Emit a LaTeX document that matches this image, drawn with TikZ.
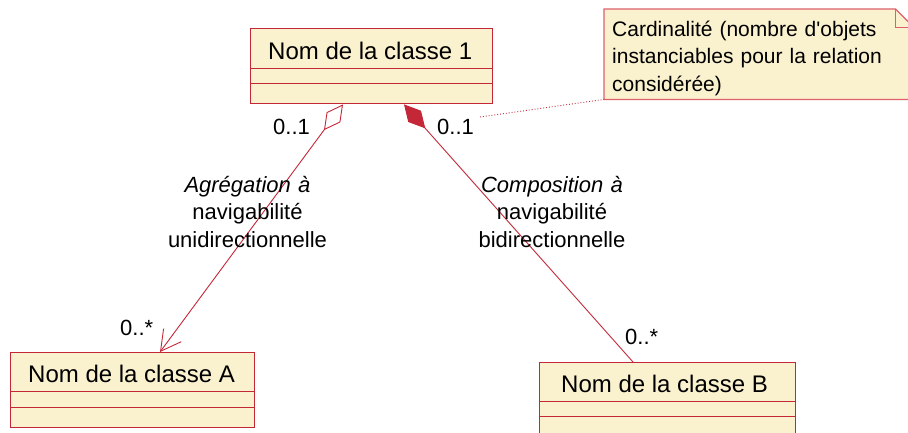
\documentclass[tikz,border=0pt]{standalone}
\usepackage{fontspec}
\setmainfont{Liberation Sans}
\usetikzlibrary{arrows.meta,calc}
\definecolor{umlred}{RGB}{196,40,56}
\definecolor{umlfill}{RGB}{250,241,206}
\definecolor{notered}{RGB}{222,96,108}
\tikzset{
  classbox/.style={draw=umlred, fill=umlfill, line width=1.4pt, rectangle, inner sep=0pt, anchor=north west},
  classline/.style={draw=umlred, line width=0.9pt},
  classtitle/.style={font=\fontsize{24}{28}\selectfont, inner sep=0pt, anchor=base west},
  mult/.style={font=\fontsize{22}{26}\selectfont, inner sep=0pt, anchor=base west},
  edgelabel/.style={font=\fontsize{22}{27.5}\selectfont, inner sep=0pt, text width=220pt, align=center, anchor=base},
  notetext/.style={font=\fontsize{21}{27.5}\selectfont, inner sep=0pt, text width=290pt, align=left, anchor=base west},
  conn/.style={draw=umlred, line width=0.9pt},
  aggarrow/.style={conn, {Diamond[open, length=32pt, width=17pt, line width=0.9pt]}-{Straight Barb[length=20pt, width=22pt, line width=0.9pt]}},
  comparrow/.style={conn, {Diamond[fill=umlred, length=32pt, width=17pt]}-},
  notelink/.style={draw=umlred, line width=0.9pt, dotted},
}
\begin{document}
\begin{tikzpicture}[x=1pt, y=-1pt]
\clip (0,0) rectangle (908,432);
\fill[white] (0,0) rectangle (908,432);

% Note
\node[minimum width=309pt, minimum height=90pt, inner sep=0pt, anchor=north west] (note) at (604,9) {};
\draw[fill=umlfill, draw=notered, line width=1.2pt]
  (note.south west) -- (note.north west) -- ($(note.north east)+(-18,0)$)
  -- ($(note.north east)+(0,18)$) -- (note.south east) -- cycle;
\draw[draw=notered, line width=1.0pt] ($(note.north east)+(-18,0)$) -- ($(note.north east)+(-18,18)$) -- ($(note.north east)+(0,18)$);
\node[notetext] (notetxt) at (612,36) {Cardinalité (nombre d\textquotesingle objets\\instanciables pour la relation\\considérée)};

% Class 1
\node[classbox, minimum width=242pt, minimum height=75pt] (c1) at (250,28) {};
\draw[classline] (250,68) -- (492,68);
\draw[classline] (250,83) -- (492,83);
\node[classtitle] (t1) at (268,59) {Nom de la classe 1};

% Class A
\node[classbox, minimum width=244pt, minimum height=75pt] (ca) at (10,352) {};
\draw[classline] (10,391) -- (254,391);
\draw[classline] (10,407) -- (254,407);
\node[classtitle] (ta) at (28,382) {Nom de la classe A};

% Class B
\node[classbox, minimum width=256pt, minimum height=90pt] (cb) at (539,362) {};
\draw[classline] (539,401) -- (795,401);
\draw[classline] (539,416) -- (795,416);
\node[classtitle] (tb) at (561,392) {Nom de la classe B};

% Connectors
\coordinate (aggS) at ($(c1.south west)+(93,0)$);
\coordinate (aggT) at ($(ca.north west)+(150,0)$);
\coordinate (compS) at ($(c1.south west)+(154,0)$);
\coordinate (compT) at ($(cb.north west)+(94,0)$);
\coordinate (linkS) at (480,117);
\draw[aggarrow] (aggS) -- (aggT);
\draw[comparrow] (compS) -- (compT);
\draw[notelink] (linkS) -- (note.south west);

% Multiplicities
\node[mult] (m1) at (273,134) {0..1};
\node[mult] (m2) at (437,134) {0..1};
\node[mult] (m3) at (120,335) {0..*};
\node[mult] (m4) at (625,344) {0..*};

% Edge labels
\node[edgelabel] (l1) at (247.5,192) {\textit{Agrégation à}\\navigabilité\\unidirectionnelle};
\node[edgelabel] (l2) at (552,192) {\textit{Composition à}\\navigabilité\\bidirectionnelle};
\end{tikzpicture}
\end{document}
